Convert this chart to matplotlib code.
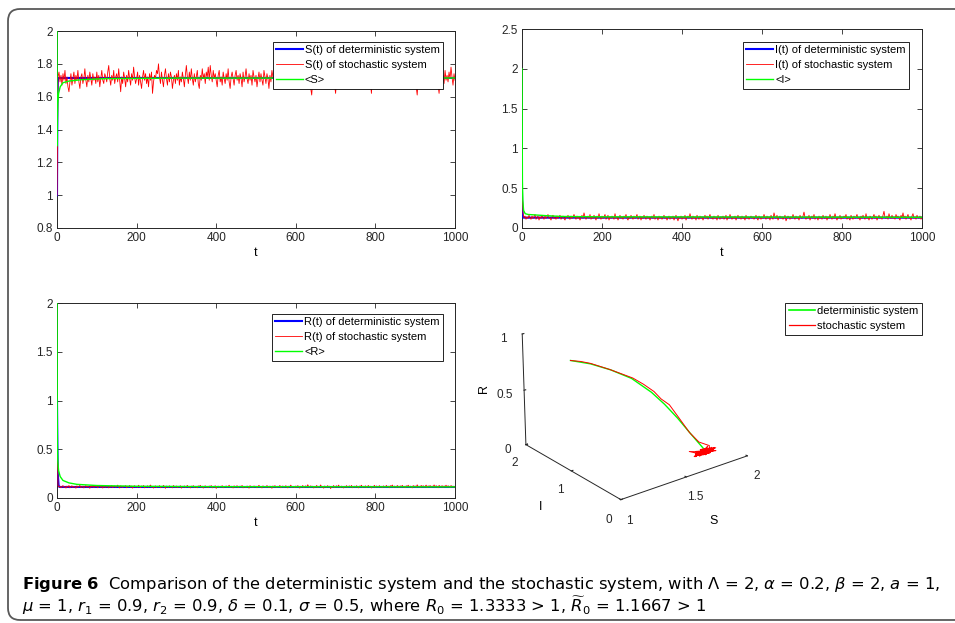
import numpy as np
import matplotlib
matplotlib.use("Agg")
import matplotlib.pyplot as plt
from matplotlib.patches import FancyBboxPatch
from matplotlib.lines import Line2D
from matplotlib.ticker import FormatStrFormatter

plt.rcParams['font.family'] = ['Liberation Sans', 'DejaVu Sans']

# stochastic paths, sampled every 2.5 time units (t = 0 ... 1000)
s_sto = [1.00, 1.72, 1.75, 1.69, 1.73, 1.67, 1.74, 1.70, 1.76, 1.68,
         1.72, 1.66, 1.63, 1.69, 1.74, 1.67, 1.71, 1.75, 1.68, 1.73,
         1.70, 1.76, 1.69, 1.65, 1.72, 1.74, 1.68, 1.71, 1.77, 1.70,
         1.66, 1.73, 1.69, 1.75, 1.71, 1.67, 1.74, 1.70, 1.72, 1.68,
         1.75, 1.69, 1.73, 1.66, 1.71, 1.76, 1.70, 1.68, 1.74, 1.72,
         1.69, 1.75, 1.79, 1.71, 1.67, 1.73, 1.70, 1.76, 1.68, 1.72,
         1.74, 1.69, 1.77, 1.70, 1.63, 1.72, 1.68, 1.75, 1.71, 1.66,
         1.73, 1.69, 1.76, 1.71, 1.67, 1.74, 1.70, 1.78, 1.72, 1.68,
         1.71, 1.75, 1.67, 1.73, 1.69, 1.65, 1.72, 1.76, 1.70, 1.74,
         1.68, 1.72, 1.66, 1.74, 1.70, 1.75, 1.62, 1.69, 1.73, 1.71,
         1.76, 1.74, 1.80, 1.72, 1.68, 1.75, 1.70, 1.66, 1.73, 1.77,
         1.71, 1.67, 1.74, 1.69, 1.75, 1.72, 1.65, 1.70, 1.73, 1.68,
         1.74, 1.70, 1.76, 1.67, 1.72, 1.69, 1.75, 1.71, 1.66, 1.73,
         1.79, 1.72, 1.68, 1.75, 1.70, 1.77, 1.71, 1.67, 1.74, 1.69,
         1.72, 1.76, 1.68, 1.65, 1.73, 1.70, 1.77, 1.71, 1.74, 1.68,
         1.75, 1.72, 1.78, 1.70, 1.79, 1.73, 1.69, 1.76, 1.71, 1.74,
         1.70, 1.66, 1.73, 1.76, 1.69, 1.72, 1.67, 1.75, 1.71, 1.68,
         1.74, 1.70, 1.77, 1.69, 1.65, 1.72, 1.75, 1.71, 1.67, 1.73,
         1.76, 1.70, 1.73, 1.68, 1.74, 1.71, 1.66, 1.75, 1.69, 1.72,
         1.77, 1.71, 1.68, 1.74, 1.70, 1.73, 1.67, 1.76, 1.72, 1.69,
         1.73, 1.66, 1.71, 1.75, 1.69, 1.74, 1.70, 1.67, 1.76, 1.72,
         1.68, 1.74, 1.71, 1.65, 1.73, 1.69, 1.76, 1.72, 1.70, 1.75,
         1.69, 1.73, 1.77, 1.70, 1.66, 1.74, 1.71, 1.68, 1.75, 1.72,
         1.67, 1.73, 1.70, 1.76, 1.69, 1.72, 1.65, 1.74, 1.71, 1.68,
         1.75, 1.70, 1.73, 1.67, 1.74, 1.71, 1.76, 1.69, 1.72, 1.66,
         1.73, 1.70, 1.75, 1.68, 1.72, 1.65, 1.61, 1.70, 1.74, 1.71,
         1.67, 1.75, 1.72, 1.69, 1.76, 1.70, 1.73, 1.66, 1.71, 1.74,
         1.68, 1.72, 1.70, 1.76, 1.65, 1.73, 1.69, 1.75, 1.71, 1.67,
         1.62, 1.70, 1.74, 1.68, 1.72, 1.77, 1.70, 1.66, 1.73, 1.71,
         1.75, 1.69, 1.72, 1.67, 1.74, 1.70, 1.76, 1.68, 1.73, 1.71,
         1.66, 1.74, 1.70, 1.75, 1.69, 1.72, 1.67, 1.76, 1.71, 1.68,
         1.73, 1.70, 1.74, 1.65, 1.71, 1.69, 1.62, 1.72, 1.75, 1.70,
         1.67, 1.73, 1.71, 1.76, 1.69, 1.72, 1.68, 1.74, 1.70, 1.66,
         1.73, 1.75, 1.70, 1.68, 1.77, 1.71, 1.67, 1.74, 1.72, 1.69,
         1.75, 1.70, 1.73, 1.66, 1.71, 1.74, 1.68, 1.76, 1.70, 1.72,
         1.67, 1.73, 1.69, 1.75, 1.71, 1.65, 1.72, 1.70, 1.74, 1.68,
         1.72, 1.66, 1.61, 1.70, 1.75, 1.69, 1.73, 1.71, 1.76, 1.68,
         1.71, 1.74, 1.67, 1.72, 1.70, 1.75, 1.68, 1.73, 1.66, 1.71,
         1.74, 1.69, 1.72, 1.67, 1.62, 1.70, 1.75, 1.71, 1.73, 1.68,
         1.76, 1.70, 1.73, 1.69, 1.75, 1.71, 1.78, 1.72, 1.67, 1.74,
         1.70]
i_sto = [0.60, 0.18, 0.13, 0.15, 0.11, 0.14, 0.12, 0.16, 0.13, 0.11,
         0.15, 0.12, 0.14, 0.17, 0.11, 0.13, 0.15, 0.10, 0.14, 0.12,
         0.16, 0.13, 0.11, 0.15, 0.12, 0.14, 0.17, 0.12, 0.13, 0.10,
         0.14, 0.16, 0.12, 0.13, 0.11, 0.15, 0.12, 0.14, 0.16, 0.11,
         0.13, 0.15, 0.12, 0.10, 0.14, 0.13, 0.16, 0.12, 0.11, 0.15,
         0.12, 0.14, 0.17, 0.13, 0.11, 0.15, 0.12, 0.14, 0.10, 0.13,
         0.16, 0.12, 0.19, 0.14, 0.11, 0.13, 0.15, 0.12, 0.17, 0.11,
         0.14, 0.12, 0.16, 0.13, 0.10, 0.15, 0.12, 0.18, 0.13, 0.11,
         0.15, 0.12, 0.14, 0.17, 0.11, 0.13, 0.16, 0.10, 0.14, 0.12,
         0.15, 0.13, 0.11, 0.18, 0.12, 0.14, 0.10, 0.13, 0.16, 0.12,
         0.14, 0.11, 0.15, 0.13, 0.17, 0.12, 0.10, 0.14, 0.12, 0.16,
         0.13, 0.11, 0.15, 0.12, 0.14, 0.17, 0.11, 0.13, 0.15, 0.10,
         0.14, 0.12, 0.16, 0.13, 0.11, 0.15, 0.12, 0.14, 0.10, 0.13,
         0.15, 0.12, 0.17, 0.11, 0.14, 0.13, 0.10, 0.15, 0.12, 0.14,
         0.11, 0.13, 0.16, 0.12, 0.14, 0.10, 0.13, 0.15, 0.11, 0.14,
         0.12, 0.15, 0.10, 0.13, 0.16, 0.12, 0.09, 0.14, 0.12, 0.15,
         0.11, 0.14, 0.12, 0.16, 0.10, 0.13, 0.15, 0.12, 0.18, 0.13,
         0.11, 0.15, 0.12, 0.14, 0.10, 0.16, 0.13, 0.11, 0.15, 0.12,
         0.14, 0.10, 0.13, 0.16, 0.12, 0.15, 0.11, 0.14, 0.17, 0.12,
         0.13, 0.11, 0.15, 0.12, 0.14, 0.10, 0.16, 0.13, 0.11, 0.14,
         0.12, 0.15, 0.11, 0.13, 0.16, 0.10, 0.14, 0.12, 0.17, 0.13,
         0.11, 0.14, 0.12, 0.15, 0.10, 0.13, 0.16, 0.12, 0.14, 0.11,
         0.15, 0.12, 0.13, 0.10, 0.16, 0.12, 0.14, 0.11, 0.13, 0.15,
         0.12, 0.14, 0.11, 0.13, 0.16, 0.12, 0.10, 0.15, 0.13, 0.11,
         0.14, 0.12, 0.17, 0.13, 0.11, 0.15, 0.12, 0.14, 0.10, 0.16,
         0.13, 0.11, 0.19, 0.14, 0.12, 0.16, 0.10, 0.13, 0.15, 0.12,
         0.14, 0.11, 0.13, 0.16, 0.09, 0.12, 0.15, 0.13, 0.11, 0.14,
         0.12, 0.17, 0.13, 0.11, 0.15, 0.12, 0.14, 0.10, 0.16, 0.13,
         0.12, 0.15, 0.20, 0.13, 0.11, 0.14, 0.12, 0.16, 0.10, 0.13,
         0.15, 0.12, 0.17, 0.11, 0.14, 0.13, 0.10, 0.15, 0.12, 0.14,
         0.11, 0.16, 0.13, 0.12, 0.15, 0.10, 0.14, 0.12, 0.17, 0.13,
         0.11, 0.15, 0.12, 0.18, 0.13, 0.10, 0.14, 0.12, 0.16, 0.11,
         0.14, 0.12, 0.15, 0.13, 0.17, 0.11, 0.14, 0.12, 0.10, 0.16,
         0.13, 0.11, 0.15, 0.12, 0.14, 0.17, 0.12, 0.13, 0.10, 0.15,
         0.12, 0.16, 0.13, 0.11, 0.18, 0.12, 0.14, 0.10, 0.15, 0.13,
         0.11, 0.14, 0.17, 0.12, 0.15, 0.10, 0.13, 0.16, 0.12, 0.14,
         0.11, 0.16, 0.21, 0.13, 0.12, 0.15, 0.11, 0.18, 0.13, 0.12,
         0.16, 0.12, 0.14, 0.11, 0.17, 0.13, 0.15, 0.12, 0.10, 0.16,
         0.13, 0.19, 0.12, 0.15, 0.11, 0.14, 0.17, 0.12, 0.13, 0.10,
         0.15, 0.18, 0.12, 0.14, 0.11, 0.16, 0.13, 0.12, 0.15, 0.11,
         0.14]
r_sto = [0.78, 0.130, 0.112, 0.121, 0.105, 0.118, 0.127, 0.109, 0.116, 0.102,
         0.122, 0.111, 0.128, 0.104, 0.117, 0.125, 0.108, 0.119, 0.113, 0.101,
         0.124, 0.110, 0.118, 0.129, 0.106, 0.115, 0.121, 0.103, 0.117, 0.126,
         0.109, 0.120, 0.113, 0.100, 0.123, 0.112, 0.127, 0.107, 0.118, 0.114,
         0.121, 0.105, 0.116, 0.130, 0.110, 0.119, 0.102, 0.124, 0.113, 0.108,
         0.126, 0.115, 0.104, 0.120, 0.111, 0.128, 0.106, 0.117, 0.123, 0.109,
         0.118, 0.132, 0.112, 0.103, 0.125, 0.114, 0.108, 0.121, 0.116, 0.127,
         0.105, 0.119, 0.113, 0.129, 0.110, 0.122, 0.101, 0.117, 0.126, 0.111,
         0.120, 0.108, 0.131, 0.114, 0.106, 0.123, 0.115, 0.128, 0.104, 0.118,
         0.112, 0.125, 0.109, 0.121, 0.133, 0.110, 0.119, 0.102, 0.116, 0.124,
         0.107, 0.120, 0.113, 0.127, 0.105, 0.118, 0.111, 0.129, 0.114, 0.100,
         0.122, 0.116, 0.108, 0.125, 0.112, 0.119, 0.104, 0.128, 0.115, 0.110,
         0.123, 0.106, 0.117, 0.113, 0.126, 0.101, 0.120, 0.111, 0.124, 0.108,
         0.115, 0.129, 0.110, 0.118, 0.103, 0.122, 0.114, 0.127, 0.107, 0.119,
         0.112, 0.105, 0.124, 0.116, 0.130, 0.109, 0.121, 0.102, 0.117, 0.125,
         0.110, 0.118, 0.106, 0.123, 0.113, 0.128, 0.104, 0.119, 0.111, 0.126,
         0.099, 0.115, 0.122, 0.108, 0.120, 0.112, 0.127, 0.105, 0.118, 0.114,
         0.124, 0.109, 0.116, 0.131, 0.107, 0.121, 0.113, 0.103, 0.125, 0.110,
         0.118, 0.126, 0.106, 0.115, 0.122, 0.111, 0.129, 0.104, 0.119, 0.113,
         0.108, 0.123, 0.116, 0.101, 0.127, 0.112, 0.120, 0.107, 0.124, 0.115,
         0.121, 0.105, 0.118, 0.130, 0.110, 0.117, 0.103, 0.125, 0.113, 0.119,
         0.109, 0.128, 0.114, 0.106, 0.122, 0.116, 0.100, 0.124, 0.111, 0.127,
         0.115, 0.108, 0.120, 0.113, 0.129, 0.105, 0.118, 0.123, 0.110, 0.116,
         0.126, 0.112, 0.104, 0.121, 0.117, 0.132, 0.109, 0.119, 0.114, 0.107,
         0.123, 0.110, 0.127, 0.115, 0.102, 0.120, 0.113, 0.128, 0.106, 0.118,
         0.124, 0.111, 0.136, 0.116, 0.108, 0.125, 0.114, 0.121, 0.103, 0.119,
         0.112, 0.129, 0.107, 0.120, 0.115, 0.134, 0.110, 0.118, 0.101, 0.123,
         0.116, 0.109, 0.127, 0.113, 0.121, 0.097, 0.119, 0.112, 0.128, 0.106,
         0.118, 0.125, 0.110, 0.132, 0.114, 0.107, 0.122, 0.116, 0.103, 0.120,
         0.113, 0.127, 0.108, 0.119, 0.124, 0.111, 0.129, 0.105, 0.117, 0.121,
         0.110, 0.126, 0.115, 0.104, 0.122, 0.118, 0.131, 0.109, 0.120, 0.113,
         0.125, 0.107, 0.117, 0.128, 0.112, 0.121, 0.103, 0.119, 0.114, 0.130,
         0.108, 0.123, 0.116, 0.110, 0.127, 0.113, 0.120, 0.106, 0.124, 0.117,
         0.111, 0.129, 0.115, 0.121, 0.105, 0.126, 0.118, 0.133, 0.109, 0.122,
         0.116, 0.110, 0.128, 0.119, 0.107, 0.124, 0.113, 0.130, 0.112, 0.120,
         0.106, 0.125, 0.117, 0.131, 0.111, 0.122, 0.115, 0.104, 0.127, 0.118,
         0.123, 0.110, 0.135, 0.116, 0.121, 0.108, 0.129, 0.114, 0.126, 0.112,
         0.119, 0.132, 0.107, 0.124, 0.117, 0.128, 0.110, 0.122, 0.115, 0.134,
         0.111, 0.126, 0.118, 0.105, 0.129, 0.120, 0.113, 0.127, 0.109, 0.123,
         0.116, 0.131, 0.112, 0.125, 0.119, 0.108, 0.128, 0.115, 0.121, 0.110,
         0.118]
t_sto = np.linspace(0, 1000, len(s_sto))

# deterministic solutions and running means (knots)
s_det_t = [0, 0.5, 1, 2, 3, 1000]
s_det = [1.0, 1.3, 1.55, 1.69, 1.714, 1.714]
s_mean_t = [0, 0.3, 1, 2, 4, 8, 15, 30, 60, 120, 300, 1000]
s_mean = [2.0, 1.3, 1.47, 1.56, 1.62, 1.66, 1.685, 1.695, 1.703, 1.71, 1.713, 1.714]

i_det_t = [0, 1, 2, 4, 1000]
i_det = [0.45, 0.22, 0.15, 0.13, 0.13]
i_mean_t = [0, 1, 2, 4, 8, 15, 30, 60, 100, 200, 1000]
i_mean = [2.0, 0.6, 0.35, 0.22, 0.18, 0.17, 0.165, 0.155, 0.145, 0.14, 0.135]

r_det_t = [0, 1, 2, 4, 6, 1000]
r_det = [1.0, 0.55, 0.25, 0.13, 0.113, 0.113]
r_mean_t = [0, 0.5, 1, 2, 4, 8, 15, 30, 50, 100, 200, 400, 1000]
r_mean = [2.0, 0.9, 0.55, 0.38, 0.28, 0.22, 0.18, 0.155, 0.14, 0.128, 0.12, 0.116, 0.114]

# phase portrait (S, I, R)
det_s3 = [1.01, 1.105, 1.21, 1.34, 1.47, 1.55, 1.61, 1.665, 1.714]
det_i3 = [1.0, 0.86, 0.74, 0.67, 0.61, 0.55, 0.44, 0.32, 0.13]
det_r3 = [0.96, 0.93, 0.87, 0.77, 0.62, 0.50, 0.38, 0.25, 0.113]
sto_s3 = [1.01, 1.06, 1.11, 1.21, 1.28, 1.35, 1.42, 1.49, 1.53, 1.58, 1.62, 1.66, 1.70, 1.76, 1.74]
sto_i3 = [1.0, 0.93, 0.87, 0.75, 0.70, 0.67, 0.64, 0.61, 0.57, 0.53, 0.44, 0.33, 0.24, 0.18, 0.14]
sto_r3 = [0.96, 0.95, 0.93, 0.87, 0.82, 0.77, 0.70, 0.62, 0.55, 0.49, 0.38, 0.26, 0.18, 0.14, 0.11]

BLUE = (0, 0, 1)
RED = (1, 0, 0)
GREEN = (0, 1, 0)
DARK = (0.15, 0.15, 0.15)

fig = plt.figure(figsize=(9.55, 6.23), dpi=100)

# rounded frame around the whole figure
frame = FancyBboxPatch((8, 3), 980, 611, boxstyle="round,pad=0,rounding_size=12",
                       transform=None, fill=False, edgecolor=(0.35, 0.35, 0.35), lw=1.3)
fig.patches.append(frame)

LEG_KW = dict(fontsize=8, fancybox=False, framealpha=1, edgecolor='k', borderpad=0.3,
              labelspacing=0.45, handlelength=2.4, handletextpad=0.2, borderaxespad=0)


def style_axes(ax, ylim, yticks):
    ax.set_xlim(0, 1000)
    ax.set_ylim(*ylim)
    ax.set_xticks([0, 200, 400, 600, 800, 1000])
    ax.set_yticks(yticks)
    ax.yaxis.set_major_formatter(FormatStrFormatter('%g'))
    ax.tick_params(direction='in', top=True, right=True, length=3.5, width=0.6,
                   labelsize=8.5, colors=DARK, pad=3)
    for sp in ax.spines.values():
        sp.set_linewidth(0.7)
        sp.set_color(DARK)
    ax.set_xlabel('t', fontsize=9, labelpad=2)


def add_legend(ax, labels, anchor):
    leg = ax.legend(labels, loc='upper right', bbox_to_anchor=anchor, **LEG_KW)
    leg.get_frame().set_linewidth(0.6)
    return leg


# S(t)
ax1 = fig.add_axes([57 / 955, 1 - 228 / 623, 398 / 955, 197 / 623])
ax1.plot(s_det_t, s_det, color=BLUE, lw=1.5, zorder=3)
ax1.plot(t_sto, s_sto, color=RED, lw=0.6, zorder=3)
ax1.plot(s_mean_t, s_mean, color=GREEN, lw=1.0, zorder=3)
style_axes(ax1, (0.8, 2), [0.8, 1, 1.2, 1.4, 1.6, 1.8, 2])
add_legend(ax1, ['S(t) of deterministic system', 'S(t) of stochastic system', '<S>'],
           (0.97, 0.944))

# I(t)
ax2 = fig.add_axes([522 / 955, 1 - 228 / 623, 400 / 955, 199 / 623])
ax2.plot(i_det_t, i_det, color=BLUE, lw=1.5, zorder=3)
ax2.plot(t_sto, i_sto, color=RED, lw=0.6, zorder=3)
ax2.plot(i_mean_t, i_mean, color=GREEN, lw=1.0, zorder=3)
style_axes(ax2, (0, 2.5), [0, 0.5, 1, 1.5, 2, 2.5])
add_legend(ax2, ['I(t) of deterministic system', 'I(t) of stochastic system', '<I>'],
           (0.9675, 0.935))

# R(t)
ax3 = fig.add_axes([57 / 955, 1 - 498 / 623, 398 / 955, 195 / 623])
ax3.plot(r_det_t, r_det, color=BLUE, lw=1.5, zorder=3)
ax3.plot(t_sto, r_sto, color=RED, lw=0.6, zorder=3)
ax3.plot(r_mean_t, r_mean, color=GREEN, lw=1.0, zorder=3)
style_axes(ax3, (0, 2), [0, 0.5, 1, 1.5, 2])
add_legend(ax3, ['R(t) of deterministic system', 'R(t) of stochastic system', '<R>'],
           (0.97, 0.944))

# phase portrait
ax4 = fig.add_axes([0.482, 0.160, 0.36, 0.40], projection='3d')
ax4.plot(det_s3, det_i3, det_r3, color=GREEN, lw=1.0)
ax4.plot(sto_s3 + s_sto[4:], sto_i3 + i_sto[4:], sto_r3 + r_sto[4:], color=RED, lw=0.7)
ax4.set_xlim(1, 2)
ax4.set_ylim(0, 2)
ax4.set_zlim(0, 1)
ax4.set_xticks([1, 1.5, 2])
ax4.set_yticks([0, 1, 2])
ax4.set_zticks([0, 0.5, 1])
for axis in (ax4.xaxis, ax4.yaxis, ax4.zaxis):
    axis.set_major_formatter(FormatStrFormatter('%g'))
    axis.set_pane_color((1, 1, 1, 0))
    axis.pane.set_edgecolor((1, 1, 1, 0))
    axis.line.set_color(DARK)
    axis.line.set_linewidth(0.7)
    axis._axinfo['tick']['inward_factor'] = 0.0
    axis._axinfo['tick']['outward_factor'] = 0.15
ax4.grid(False)
ax4.tick_params(labelsize=8.5, colors=DARK, pad=0)
ax4.set_xlabel('S', fontsize=9, labelpad=3)
ax4.set_ylabel('I', fontsize=9, labelpad=1)
ax4.zaxis.set_rotate_label(False)
ax4.set_zlabel('R', fontsize=9, labelpad=-4, rotation=90)
ax4.view_init(elev=22, azim=-128)
ax4.set_facecolor('none')

proxies = [Line2D([0, 1], [0, 0], color=GREEN, lw=1.2),
           Line2D([0, 1], [0, 0], color=RED, lw=0.9)]
leg4 = fig.legend(proxies, ['deterministic system', 'stochastic system'], loc='upper right',
                  bbox_to_anchor=(922 / 955, 1 - 303 / 623), **LEG_KW)
leg4.get_frame().set_linewidth(0.6)

# caption
cap1 = (r"$\mathbf{Figure\ 6}$  Comparison of the deterministic system and the stochastic system, "
        r"with $\Lambda$ = 2, $\alpha$ = 0.2, $\beta$ = 2, $a$ = 1,")
cap2 = (r"$\mu$ = 1, $r_1$ = 0.9, $r_2$ = 0.9, $\delta$ = 0.1, $\sigma$ = 0.5, where "
        r"$R_0$ = 1.3333 > 1, $\widetilde{R}_0$ = 1.1667 > 1")
fig.text(22 / 955, 1 - 584 / 623, cap1, fontsize=11.8, va='center', ha='left',
         family='DejaVu Sans')
fig.text(22 / 955, 1 - 606 / 623, cap2, fontsize=11.8, va='center', ha='left',
         family='DejaVu Sans')

fig.savefig('out.png', dpi=100)
